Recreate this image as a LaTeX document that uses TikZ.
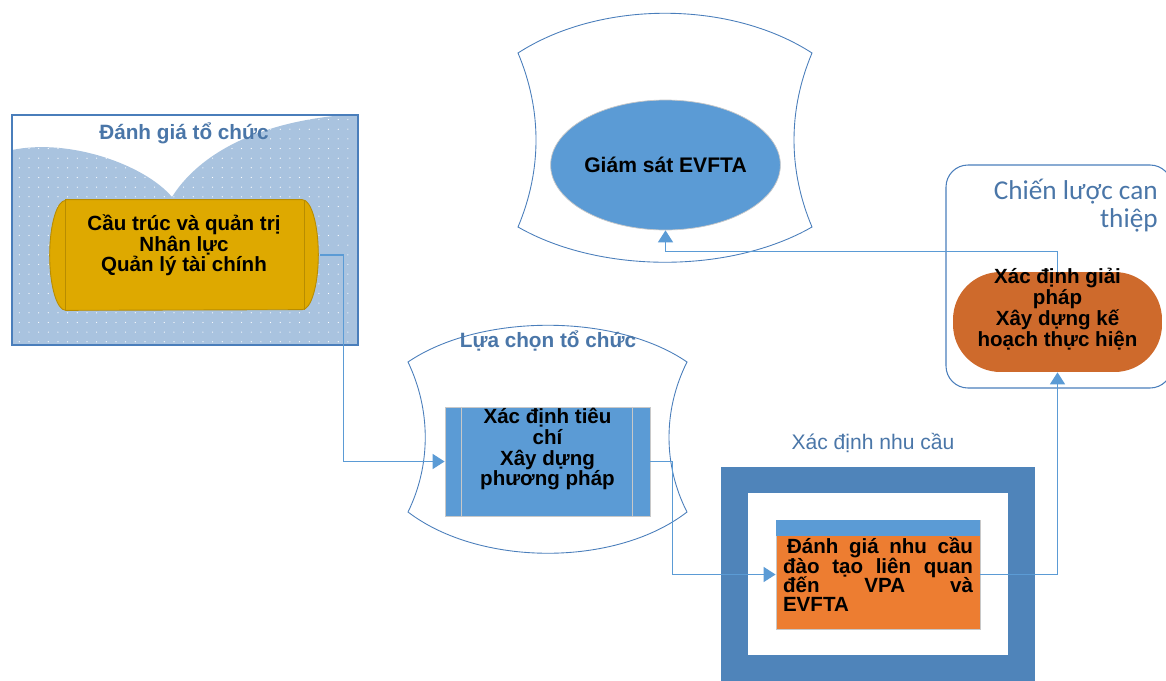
\documentclass[tikz,border=0pt]{standalone}
\usepackage{fontspec}
\setmainfont{Liberation Sans}
\newfontfamily\calibri{Carlito}
\usetikzlibrary{positioning,arrows.meta,patterns.meta,shapes.geometric}
\definecolor{titleblue}{HTML}{4A76A8}
\definecolor{edgeblue}{HTML}{4A7EBB}
\definecolor{waveblue}{HTML}{A9C3DF}
\definecolor{gold}{HTML}{DEA900}
\definecolor{golddark}{HTML}{B88C00}
\definecolor{boxblue}{HTML}{5B9BD5}
\definecolor{frameblue}{HTML}{4F84BA}
\definecolor{needorange}{HTML}{ED7D31}
\definecolor{rust}{HTML}{CE6A2C}
\definecolor{lightgray}{HTML}{C8C8C8}
\newcommand{\tightlines}{\lineskiplimit=-20pt\relax}

\begin{document}
\begin{tikzpicture}[x=0.02cm,y=-0.02cm,
  title/.style={font=\bfseries\fontsize{11.8}{13}\selectfont, text=titleblue, inner sep=0pt},
  body/.style={font=\bfseries\fontsize{11.7}{11.8}\selectfont\tightlines, align=center, inner sep=0pt},
  link/.style={draw=boxblue, line width=0.85pt, -{Triangle[length=6.8pt,width=8.5pt]}},
  plaque/.style={draw=edgeblue, line width=0.5pt, fill=white}]
\useasboundingbox (0,0) rectangle (1166,680);
\clip (0,0) rectangle (1166,680);

% Danh gia to chuc
\draw [edgeblue, line width=0.6pt] (12,115) rectangle (358,345);
\fill [waveblue] (12,150) .. controls (70,138) and (145,165) .. (172,197)
  .. controls (195,160) and (250,120) .. (358,114) -- (358,345) -- (12,345) -- cycle;
\fill [pattern={Dots[radius=0.35pt,distance=5.5pt]}, pattern color=white] (12,150) .. controls (70,138) and (145,165) .. (172,197)
  .. controls (195,160) and (250,120) .. (358,114) -- (358,345) -- (12,345) -- cycle;
\draw [edgeblue, line width=0.6pt] (12,115) rectangle (358,345);
\node [title] (orgtitle) at (184,133) {Đánh giá tổ chức};

\node [minimum width=5.44cm, minimum height=2.2cm, inner sep=0pt] (struct) at (184,255) {};
\draw [fill=gold, draw=golddark, line width=0.5pt] ([xshift=0.36cm]struct.north west) -- ([xshift=-0.36cm]struct.north east)
  arc [start angle=90, end angle=-90, x radius=0.32cm, y radius=1.1cm]
  -- ([xshift=0.36cm]struct.south west)
  arc [start angle=270, end angle=90, x radius=0.32cm, y radius=1.1cm] -- cycle;
\draw [golddark, line width=0.5pt] ([xshift=0.36cm]struct.north west) -- ([xshift=0.36cm]struct.south west);
\draw [golddark, line width=0.5pt] ([xshift=-0.32cm]struct.north east) -- ([xshift=-0.32cm]struct.south east);
\node [body, below=0.29cm of struct.north] (structtxt) {Cầu trúc và quản trị\\Nhân lực\\Quản lý tài chính};

% Lua chon to chuc
\draw [plaque] (408,362) .. controls (480,313) and (616,313) .. (687,362)
  .. controls (663,410) and (663,465) .. (687,512)
  .. controls (616,567) and (480,567) .. (408,512)
  .. controls (431,465) and (431,410) .. cycle;
\node [title] (choicetitle) at (548,341) {Lựa chọn tổ chức};
\node [fill=boxblue, draw=lightgray, line width=0.5pt, minimum width=4.1cm, minimum height=2.18cm, inner sep=0pt] (criteria) at (547.5,461.5) {};
\draw [lightgray, line width=0.5pt] ([xshift=0.34cm]criteria.north west) -- ([xshift=0.34cm]criteria.south west);
\draw [lightgray, line width=0.5pt] ([xshift=-0.36cm]criteria.north east) -- ([xshift=-0.36cm]criteria.south east);
\node [body, below=0.03cm of criteria.north] (criteriatxt) {Xác định tiêu\\chí\\Xây dựng\\phương pháp};

% Giam sat
\draw [plaque] (518,53) .. controls (600,0) and (730,0) .. (812,53)
  .. controls (788,110) and (788,170) .. (812,227)
  .. controls (730,274) and (600,274) .. (518,227)
  .. controls (542,170) and (542,110) .. cycle;
\node [ellipse, fill=boxblue, draw=lightgray, line width=0.4pt, minimum width=4.42cm, minimum height=2.6cm, inner sep=0pt,
  font=\bfseries\fontsize{12}{13}\selectfont] (monitor) at (665.5,165) {Giám sát EVFTA};

% Chien luoc can thiep
\draw [edgeblue, line width=0.6pt, rounded corners=0.44cm] (946,165) rectangle (1172,388);
\node [font=\calibri\fontsize{15.5}{16}\selectfont, text=titleblue, align=right, anchor=north east, inner sep=0pt] (stratitle) at (1158,179) {Chiến lược can\\thiệp};
\node [fill=rust, rounded corners=0.95cm, minimum width=4.18cm, minimum height=2cm, inner sep=0pt] (plan) at (1057.5,322) {};
\node [body, below=-0.07cm of plan.north] (plantxt) {Xác định giải\\pháp\\Xây dựng kế\\hoạch thực hiện};

% Xac dinh nhu cau
\node [font=\fontsize{12}{13}\selectfont, text=titleblue, inner sep=0pt] (needtitle) at (873,443) {Xác định nhu cầu};
\fill [frameblue] (721,467) rectangle (1035,700);
\fill [white] (748,493) rectangle (1008,655);
\node [fill=needorange, draw=lightgray, line width=0.5pt, minimum width=4.08cm, minimum height=2.18cm, inner sep=0pt] (needs) at (878,574.5) {};
\fill [boxblue] (needs.north west) rectangle ([yshift=-0.32cm]needs.north east);
\node [font=\bfseries\fontsize{11.7}{11}\selectfont\tightlines, text width=3.8cm, align=justify, inner sep=0pt, below=0.36cm of needs.north] (needstxt)
  {\hspace*{0.2em}Đánh giá nhu cầu\linebreak đào tạo liên quan\linebreak đến VPA và\linebreak EVFTA};

% connectors
\draw [link] (struct.east) -- ++(23,0) |- (criteria.west);
\draw [link] (criteria.east) -- ++(22,0) |- (needs.west);
\draw [link] (needs.east) -| (plan.south);
\draw [link] (plan.north) -- ++(0,-20) -| (monitor.south);

\end{tikzpicture}
\end{document}
